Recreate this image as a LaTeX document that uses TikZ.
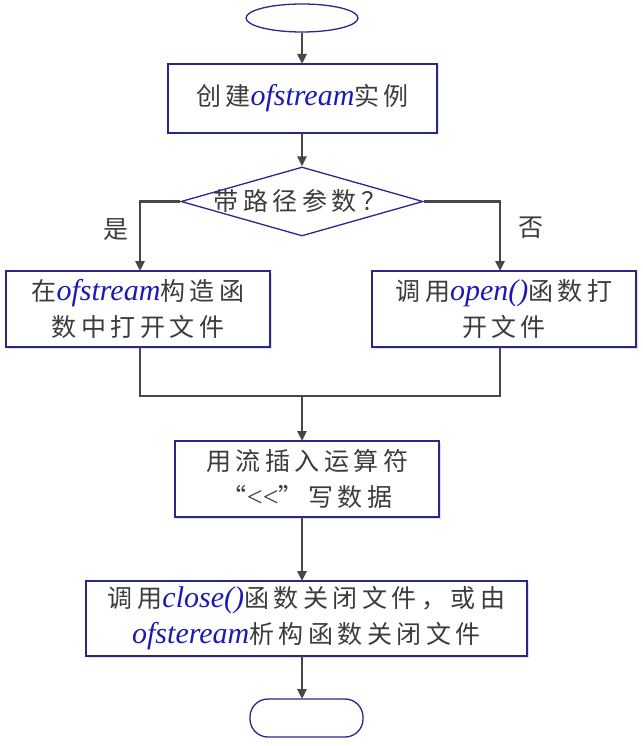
\documentclass[tikz,border=0pt]{standalone}
\usepackage{fontspec}
\setmainfont{Noto Sans CJK SC}[LetterSpace=18]
\newfontfamily\enfont{Liberation Serif}
\usetikzlibrary{shapes.geometric,arrows.meta,shadows}
\definecolor{tgray}{HTML}{3C3C3C}
\definecolor{eblue}{HTML}{1A1AB4}
\definecolor{bblue}{HTML}{27278C}
\definecolor{lgray}{HTML}{474747}
\newcommand\en[1]{{\enfont\fontsize{30}{36}\selectfont\itshape\color{eblue}#1}}
\newcommand\lt{{\enfont\fontsize{28}{36}\selectfont{<}{<}}}
\tikzset{
  box/.style={draw=bblue, line width=1.3pt, fill=white, rectangle, inner sep=0pt,
    drop shadow={opacity=0.25, shadow xshift=1.5pt, shadow yshift=-1.5pt},
    font=\fontsize{25}{36}\selectfont, text=tgray, align=center},
  dec/.style={draw=bblue, line width=1.3pt, fill=white, diamond, inner sep=0pt,
    minimum width=242pt, minimum height=69pt},
  term/.style={draw=bblue, line width=1.3pt, fill=white, inner sep=0pt},
  txt/.style={font=\fontsize{25}{36}\selectfont, text=tgray, inner sep=0pt},
  line/.style={draw=lgray, line width=2.6pt},
  arr/.style={line, -{Triangle[length=10pt,width=9pt]}}
}
\begin{document}
\begin{tikzpicture}[x=1pt,y=1pt]
\useasboundingbox (0,0) rectangle (642,-746);
\fill[white] (0,0) rectangle (642,-746);
\node[term, ellipse, minimum width=112pt, minimum height=28pt] (s) at (302,-18) {};
\node[box, minimum width=269pt, minimum height=69pt] (b1) at (302.5,-98.5) {创建\en{ofstream}实例};
\node[dec] (d) at (302,-201.5) {};
\node[txt] (dt) at (300,-201) {带路径参数？};
\node[box, minimum width=264pt, minimum height=76pt] (b2) at (138,-309) {在\en{ofstream}构造函\\数中打开文件};
\node[box, minimum width=264pt, minimum height=76pt] (b3) at (504,-309) {调用\en{open()}函数打\\开文件};
\node[box, minimum width=264pt, minimum height=76pt] (b4) at (307,-479) {用流插入运算符\\“\lt”写数据};
\node[box, minimum width=441pt, minimum height=75pt] (b5) at (306.5,-618.5) {调用\en{close()}函数关闭文件，或由\\\en{ofsteream}析构函数关闭文件};
\node[term, rectangle, rounded corners=18pt, minimum width=113pt, minimum height=38pt] (e) at (306.5,-718) {};
\node[txt] (yes) at (116,-230) {是};
\node[txt] (no) at (531,-228) {否};
\coordinate (j) at (302,-396);
\draw[arr] (s.south) -- (302,-64);
\draw[arr] (302,-133) -- (d.north);
\draw[arr] (d.west) -| (140,-271);
\draw[arr] (d.east) -| (500,-271);
\draw[line] (140,-347) |- (j) -| (500,-347);
\draw[arr] (j) -- (302,-441);
\draw[arr] (302,-517) -- (302,-581);
\draw[arr] (302,-656) -- (302,-699);
\end{tikzpicture}
\end{document}
